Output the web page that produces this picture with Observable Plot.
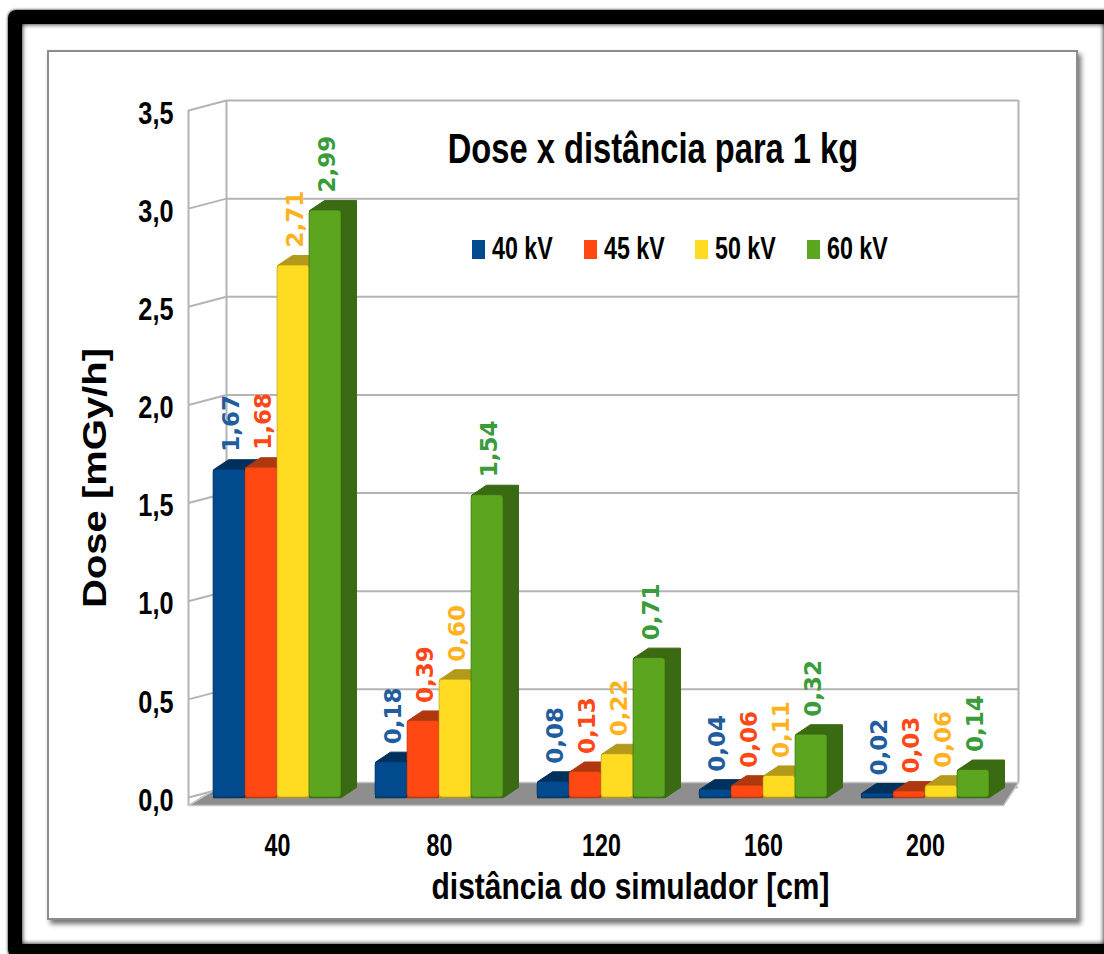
<!DOCTYPE html>
<html>
<head>
<meta charset="utf-8">
<script src="https://cdn.jsdelivr.net/npm/d3@7"></script>
<script src="https://cdn.jsdelivr.net/npm/@observablehq/plot@0.6"></script>
<style>
  html, body { margin: 0; padding: 0; width: 1104px; height: 954px; overflow: hidden; background: #fff; }
  #frame { position: absolute; left: 8px; top: 10px; width: 1110px; height: 948px; box-sizing: border-box;
           border: 14px solid #000; border-radius: 8px; box-shadow: 0 0 3px #000, inset 0 0 5px #000; }
  #panel { position: absolute; left: 47px; top: 50px; width: 1031px; height: 870px; box-sizing: border-box;
           border: 2px solid #8c8c8c; background: #fff; box-shadow: 3px 4px 5px rgba(0,0,0,.55); }
  #chart { position: absolute; left: 0; top: 0; }
  #title { position: absolute; left: 653px; top: 148px; transform: translate(-50%, -50%) scaleX(.76);
           font: bold 43px "Liberation Sans", Arial, sans-serif; white-space: nowrap; color: #000; }
  #legend { position: absolute; left: 472px; top: 249px; transform: translateY(-50%); display: flex; }
  .item { width: 111.7px; display: flex; align-items: center; }
  .sw { width: 13px; height: 19px; margin-right: 7px; flex: none; }
  .lt { font: bold 31px "Liberation Sans", Arial, sans-serif; transform: scaleX(.75); transform-origin: left center; white-space: nowrap; }
</style>
</head>
<body>
<div id="frame"></div>
<div id="panel"></div>
<div id="chart"></div>
<div id="title">Dose x distância para 1 kg</div>
<div id="legend"></div>
<script>
// ---- data ----
const distances = ["40", "80", "120", "160", "200"];
const seriesNames = ["40 kV", "45 kV", "50 kV", "60 kV"];
const dose40kV = [1.67, 0.18, 0.08, 0.04, 0.02];
const dose45kV = [1.68, 0.39, 0.13, 0.06, 0.03];
const dose50kV = [2.71, 0.60, 0.22, 0.11, 0.06];
const dose60kV = [2.99, 1.54, 0.71, 0.32, 0.14];
const yTicks = [0, 0.5, 1.0, 1.5, 2.0, 2.5, 3.0, 3.5];

// ---- styles ----
const frontColors = ["#004a8d", "#ff4812", "#ffdb22", "#5ca51f"];
const sideColors  = ["#00305c", "#b0380f", "#b39a1a", "#3a6a12"];
const labelColors = ["#1f5d9e", "#ff4718", "#ffb21f", "#3a9b3a"];
const FONT = "'Liberation Sans', Arial, sans-serif";

const seriesValues = [dose40kV, dose45kV, dose50kV, dose60kV];
const rows = [];
seriesValues.forEach((vals, j) => vals.forEach((v, i) =>
  rows.push({i, j, distance: distances[i], series: seriesNames[j], value: v})));

// geometry (in scale units)
const PX = 162, PY = 196.3;           // pixels per category / per unit of dose
const BW = 32 / PX;                   // bar width
const DX = 15 / PX, DY = 10 / PY;     // bar depth
const WX = 38 / PX, WY = 10 / PY;     // wall depth
const X0 = -89 / PX, X1 = 741 / PX;   // x domain
const FF = -8 / PY, FB = 15 / PY;     // floor front / back
const bx1 = d => d.i + (d.j - 2) * BW;
const bx2 = d => d.i + (d.j - 1) * BW;

const sidePts = [];
rows.forEach(d => {
  const a = bx1(d), b = bx2(d), v = d.value, key = d.j + "-" + d.i;
  [[a, 0], [a, v], [a + DX, v + DY], [b + DX, v + DY], [b + DX, DY], [b, 0]]
    .forEach(([x, y]) => sidePts.push({x, y, key, j: d.j}));
});
const floorPts = [
  {x: X0, y: FF}, {x: X1 - 15 / PX, y: FF}, {x: X1, y: FB}, {x: X0 + WX, y: FB}
];

const fmt = (v, n) => v.toFixed(n).replace(".", ",");
const gridColor = "#b4b4b4";

const marks = [
  // back wall grid
  Plot.ruleY(yTicks, {y: d => d + WY, x1: X0 + WX, x2: X1, stroke: gridColor, strokeWidth: 2}),
  Plot.link(yTicks, {x1: X0, y1: d => d, x2: X0 + WX, y2: d => d + WY, stroke: gridColor, strokeWidth: 2}),
  Plot.ruleX([X0 + WX], {y1: FB, y2: 3.5 + WY, stroke: gridColor, strokeWidth: 2}),
  Plot.ruleX([X1], {y1: FB, y2: 3.5 + WY, stroke: gridColor, strokeWidth: 2}),
  Plot.ruleX([X0], {y1: FF, y2: 3.5, stroke: gridColor, strokeWidth: 2}),
  // floor
  Plot.line(floorPts, {x: "x", y: "y", fill: "#8e8e8e", stroke: "#c4c4c4", strokeWidth: 1.5, curve: "linear-closed"}),
];
// bar sides/tops
seriesNames.forEach((s, j) => {
  marks.push(Plot.line(sidePts.filter(p => p.j === j),
    {x: "x", y: "y", z: "key", fill: sideColors[j], stroke: sideColors[j], strokeWidth: 1, curve: "linear-closed"}));
});
// bar fronts
seriesNames.forEach((s, j) => {
  marks.push(Plot.rect(rows.filter(d => d.j === j),
    {x1: bx1, x2: bx2, y1: 0, y2: "value", fill: frontColors[j], stroke: sideColors[j], strokeOpacity: 0.6, strokeWidth: 1, rx: 3}));
});
// value labels
seriesNames.forEach((s, j) => {
  marks.push(Plot.text(rows.filter(d => d.j === j), {
    x: d => (bx1(d) + bx2(d)) / 2, y: "value", text: d => fmt(d.value, 2),
    rotate: -90, textAnchor: "start", dy: -18, dx: 2, fill: labelColors[j],
    fontFamily: "'DejaVu Sans', sans-serif", fontWeight: "bold", fontSize: 23
  }));
});
// y tick labels
marks.push(Plot.text(yTicks, {x: X0, y: d => d, text: d => fmt(d, 1), textAnchor: "end", dx: -15, dy: 3,
  fontFamily: FONT, fontWeight: "bold", fontSize: 32, fill: "#000", ariaDescription: "ytick"}));
// x tick labels
marks.push(Plot.text(distances, {x: (d, i) => i, y: 0, text: d => d, dy: 49,
  fontFamily: FONT, fontWeight: "bold", fontSize: 31, fill: "#000", ariaDescription: "xtick"}));
// axis labels
marks.push(Plot.text(["distância do simulador [cm]"], {frameAnchor: "bottom", textAnchor: "middle", lineAnchor: "middle",
  dx: 27, dy: 90, fontFamily: FONT, fontWeight: "bold", fontSize: 37, fill: "#000", ariaDescription: "xlabel"}));
marks.push(Plot.text(["Dose [mGy/h]"], {frameAnchor: "left", textAnchor: "middle", lineAnchor: "middle",
  rotate: -90, dx: -93, dy: 24, fontFamily: FONT, fontWeight: "bold", fontSize: 40, fill: "#000", ariaDescription: "ylabel"}));

const chart = Plot.plot({
  width: 1104, height: 954,
  marginLeft: 188, marginRight: 86, marginTop: 110, marginBottom: 157,
  x: {domain: [X0, X1], axis: null},
  y: {domain: [0, 3.5], axis: null},
  style: {background: "transparent", overflow: "visible"},
  marks
});
document.getElementById("chart").appendChild(chart);

// horizontally condensed lettering, as in the original
function condense(tag, s) {
  d3.select(chart).selectAll(`g[aria-description="${tag}"] text`).each(function () {
    const t = this.getAttribute("transform");
    if (t) this.setAttribute("transform", t + " " + s);
    else {
      const x = +this.getAttribute("x") || 0, y = +this.getAttribute("y") || 0;
      this.setAttribute("x", 0); this.setAttribute("y", 0);
      this.setAttribute("transform", `translate(${x},${y}) ${s}`);
    }
  });
}
condense("ytick", "scale(0.79,1)");
condense("xtick", "scale(0.75,1)");
condense("xlabel", "scale(0.81,1)");
condense("ylabel", "scale(1,0.85)");

// legend
const legend = document.getElementById("legend");
seriesNames.forEach((s, j) => {
  const it = document.createElement("div"); it.className = "item";
  const sw = document.createElement("span"); sw.className = "sw"; sw.style.background = frontColors[j];
  const lt = document.createElement("span"); lt.className = "lt"; lt.textContent = s;
  it.appendChild(sw); it.appendChild(lt); legend.appendChild(it);
});
</script>
</body>
</html>
